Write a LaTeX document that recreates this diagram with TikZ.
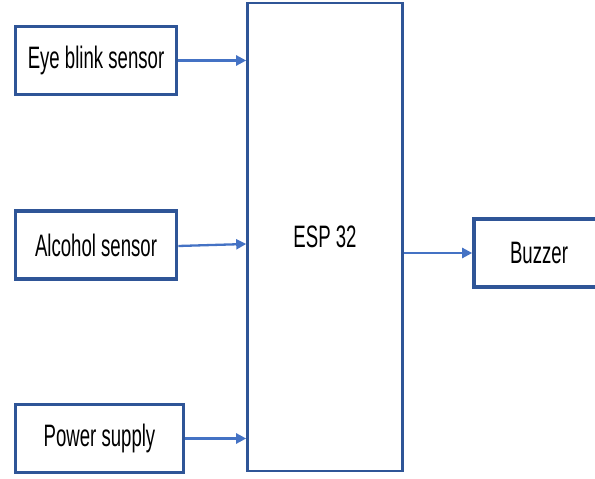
\documentclass[tikz,border=0pt]{standalone}
\usepackage{fontspec}
\setmainfont{Liberation Sans}[FakeStretch=0.6]
\usepackage{xcolor}
\usetikzlibrary{positioning, arrows.meta}
\definecolor{BoxBlue}{HTML}{2F5597}
\definecolor{ArrowBlue}{HTML}{4472C4}

\begin{document}
\begin{tikzpicture}[
  x=1pt, y=1pt,
  sigarr/.style={-{Triangle[length=10pt, width=10pt]}, line width=2.3pt, color=ArrowBlue},
  block/.style={draw=BoxBlue, line width=3.6pt, fill=white, inner sep=2pt,
                minimum height=68pt, align=center, font=\fontsize{31}{37}\selectfont},
  mcu/.style={draw=BoxBlue, line width=2.6pt, fill=white,
              minimum width=155pt, minimum height=468pt, font=\fontsize{31}{37}\selectfont},
]
  \useasboundingbox (0,0) rectangle (595,479);

% ===== inputs (left column) =====
  \node[block, minimum width=161pt] (eye) at (96,418.5) {Eye blink sensor};
  \node[block, minimum width=161pt] (alc) at (96,234) {Alcohol sensor};
  \node[block, minimum width=168pt] (pwr) at (99.5,40.5) {Power supply};

% ===== controller and output =====
  \node[mcu] (esp) at (325,242) {ESP 32};
  \node[block, minimum width=130pt] (buz) at (539,226) {Buzzer};

% ===== signal arrows =====
  \draw[sigarr] (eye.east) -- (eye.east -| esp.west);
  \draw[sigarr] ([yshift=-1pt]alc.east) -- ([yshift=1pt]alc.east -| esp.west);
  \draw[sigarr] (pwr.east) -- (pwr.east -| esp.west);
  \draw[sigarr] (esp.east |- buz.west) -- (buz.west);

\end{tikzpicture}
\end{document}
